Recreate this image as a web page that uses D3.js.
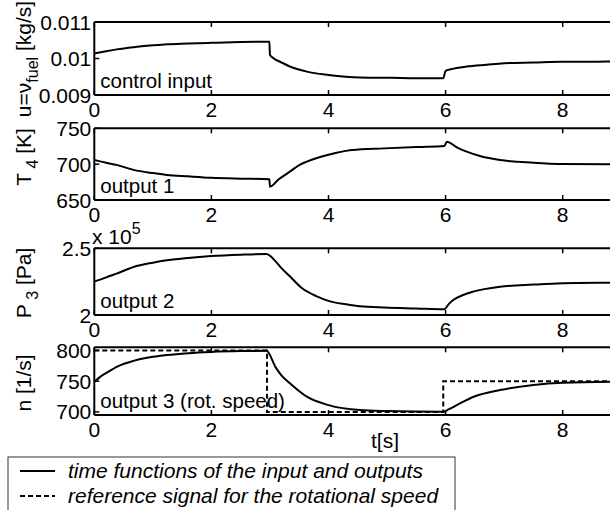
<!DOCTYPE html>
<html><head><meta charset="utf-8">
<script src="https://cdn.jsdelivr.net/npm/d3@7"></script>
<style>body{margin:0;background:#fff}svg{display:block}text{font-family:"Liberation Sans",Arial,sans-serif;fill:#000}</style>
</head><body><svg id="c" width="610" height="510"></svg>
<script>
// ---- data ----
const tFuel = [0,0.2,0.38,0.67,1.0,1.24,1.6,2,2.5,2.99,3.0,3.05,3.2,3.34,3.63,4,4.54,5.08,5.5,5.96,6.0,6.1,6.36,6.7,7,7.5,8,8.5,9,10];
const fuel  = [0.01014,0.01020,0.01025,0.01031,0.01036,0.01039,0.01041,0.01043,0.01045,0.01046,0.01010,0.01002,0.00989,0.00978,0.00964,0.00955,0.00948,0.00947,0.00946,0.00946,0.00966,0.00971,0.00978,0.00983,0.00987,0.00989,0.00991,0.00991,0.00992,0.00992];

const tT4 = [0,0.2,0.38,0.67,1.0,1.24,1.6,2,2.5,2.99,3.0,3.15,3.34,3.5,3.63,4,4.4,4.95,5.52,5.98,6.02,6.2,6.36,6.6,6.93,7.5,8,8.8,10];
const T4  = [706,702,699,692,687.5,685,683,681,679.8,679,668.6,679,689.5,698.8,703.5,713,719.7,722,724,725.4,731.3,723,717.4,711,705.8,702,700.2,699.8,699.5];

const tP3 = [0,0.1,0.25,0.38,0.67,1.0,1.24,1.6,2,2.5,2.94,3.1,3.2,3.34,3.55,3.8,4,4.3,4.54,4.95,5.5,5.98,6.05,6.13,6.3,6.47,6.93,7.5,8,8.8,10];
const P3  = [2.25,2.265,2.29,2.31,2.36,2.392,2.41,2.428,2.442,2.452,2.457,2.40,2.35,2.29,2.20,2.14,2.106,2.08,2.065,2.056,2.049,2.043,2.08,2.112,2.15,2.175,2.212,2.228,2.238,2.242,2.245];

const tN = [0,0.1,0.25,0.4,0.67,1.0,1.24,1.6,2,2.5,2.94,3.1,3.2,3.34,3.63,4,4.54,5,5.96,6.05,6.19,6.48,6.93,7.5,8,8.8,10];
const N  = [749,757,766,774,783,789.5,792.5,795.5,797.5,798.8,799.2,772,759,746.5,724.7,711,703,701.5,700.4,704,711,724.7,735.6,743.8,747.5,749.1,749.5];

const tRef = [0,2.95,2.95,5.96,5.96,10];
const nRef = [800,800,700,700,750,750];

const xTicks = [0,2,4,6,8];
const yTicksFuel = [0.009,0.01,0.011], yLabFuel = ["0.009","0.01","0.011"];
const yTicksT4 = [650,700,750];
const yTicksP3 = [2,2.5], yLabP3 = ["2","2.5"];
const yTicksN = [700,750,800];
const legendLabels = ["time functions of the input and outputs","reference signal for the rotational speed"];

// ---- drawing ----
const svg = d3.select("#c");
const X0 = 94.3, PXU = 58.55;
const x = d3.scaleLinear().domain([0,10]).range([X0, X0+10*PXU]);
const FT = 21, FP = 20.5, FL = 21;

const panels = [
  {top:22, bot:95, dom:[0.009,0.011], t:tFuel, v:fuel, ticks:yTicksFuel, labs:yLabFuel, label:"fuel", cy:59, txt:"control input"},
  {top:128.3, bot:200, dom:[650,750], t:tT4, v:T4, ticks:yTicksT4, labs:yTicksT4.map(String), label:"T4", cy:157, txt:"output 1"},
  {top:248.3, bot:315, dom:[2,2.5], t:tP3, v:P3, ticks:yTicksP3, labs:yLabP3, label:"P3", cy:283, txt:"output 2"},
  {top:347.3, bot:415, dom:[695,805], t:tN, v:N, ticks:yTicksN, labs:yTicksN.map(String), label:"n", cy:383, txt:"output 3 (rot. speed)"}
];

panels.forEach((p,i)=>{
  const y = d3.scaleLinear().domain(p.dom).range([p.bot,p.top]);
  const g = svg.append("g");
  g.append("line").attr("x1",X0).attr("x2",610).attr("y1",p.top).attr("y2",p.top).attr("stroke","#000").attr("stroke-width",2);
  g.append("line").attr("x1",X0).attr("x2",610).attr("y1",p.bot).attr("y2",p.bot).attr("stroke","#000").attr("stroke-width",2);
  g.append("line").attr("x1",X0).attr("x2",X0).attr("y1",p.top).attr("y2",p.bot).attr("stroke","#000").attr("stroke-width",2);
  xTicks.forEach(t=>{
    g.append("line").attr("x1",x(t)).attr("x2",x(t)).attr("y1",p.top).attr("y2",p.top+5).attr("stroke","#000").attr("stroke-width",1.5);
    g.append("line").attr("x1",x(t)).attr("x2",x(t)).attr("y1",p.bot).attr("y2",p.bot-5).attr("stroke","#000").attr("stroke-width",1.5);
    g.append("text").attr("x",x(t)).attr("y",p.bot+22).attr("text-anchor","middle").attr("font-size",FT).text(String(t));
  });
  p.ticks.forEach((v,k)=>{
    g.append("line").attr("x1",X0).attr("x2",X0+5).attr("y1",y(v)).attr("y2",y(v)).attr("stroke","#000").attr("stroke-width",1.5);
    g.append("text").attr("x",X0-3).attr("y",y(v)).attr("dy","0.36em").attr("text-anchor","end").attr("font-size",FT).text(p.labs[k]);
  });
  const line = d3.line().x((d,k)=>x(p.t[k])).y(d=>y(d)).curve(d3.curveMonotoneX);
  g.append("path").attr("d",line(p.v)).attr("fill","none").attr("stroke","#000").attr("stroke-width",2);
  if(i===3){
    const rl = d3.line().x((d,k)=>x(tRef[k])).y(d=>y(d));
    g.append("path").attr("d",rl(nRef)).attr("fill","none").attr("stroke","#000").attr("stroke-width",2).attr("stroke-dasharray","5,3");
  }
  g.append("text").attr("x",X0+6).attr("y",p.bot-7).attr("font-size",FP).text(p.txt);
  const lt = g.append("text").attr("transform",`translate(31,${p.cy}) rotate(-90)`).attr("text-anchor","middle").attr("font-size",FL);
  if(p.label==="fuel"){
    lt.append("tspan").text("u=ν");
    lt.append("tspan").attr("dy",7).attr("font-size",16).text("fuel");
    lt.append("tspan").attr("dy",-7).text(" [kg/s]");
  } else if(p.label==="T4"){
    lt.append("tspan").text("T");
    lt.append("tspan").attr("dy",7).attr("font-size",16).text(" 4");
    lt.append("tspan").attr("dy",-7).text(" [K]");
  } else if(p.label==="P3"){
    lt.append("tspan").text("P");
    lt.append("tspan").attr("dy",7).attr("font-size",16).text(" 3");
    lt.append("tspan").attr("dy",-7).text(" [Pa]");
  } else {
    lt.text("n [1/s]");
  }
});

const ex = svg.append("text").attr("x",92).attr("y",244).attr("font-size",FT);
ex.append("tspan").text("x 10");
ex.append("tspan").attr("dy",-10).attr("font-size",16).text("5");

svg.append("text").attr("x",385).attr("y",448).attr("text-anchor","middle").attr("font-size",FL).text("t[s]");

svg.append("rect").attr("x",8).attr("y",457).attr("width",447).attr("height",70).attr("fill","#fff").attr("stroke","#333").attr("stroke-width",1);
[0,1].forEach(k=>{
  const yy = 471 + k*25;
  svg.append("line").attr("x1",20).attr("x2",55).attr("y1",yy).attr("y2",yy).attr("stroke","#000").attr("stroke-width",2)
    .attr("stroke-dasharray", k===1 ? "5,3" : null);
  svg.append("text").attr("x",68).attr("y",yy+7).attr("font-size",FL).attr("font-style","italic").text(legendLabels[k]);
});
</script></body></html>
